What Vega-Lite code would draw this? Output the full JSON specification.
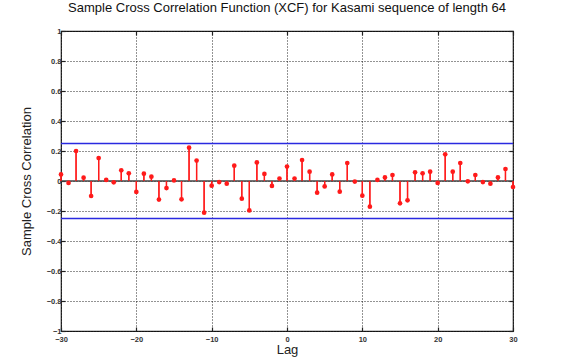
{
  "$schema": "https://vega.github.io/schema/vega-lite/v6.json",
  "autosize": {"type": "none"},
  "padding": {"left": 61, "top": 31, "right": 55, "bottom": 29},
  "width": 452,
  "height": 300,
  "background": "white",
  "title": {
    "text": "Sample Cross Correlation Function (XCF) for Kasami sequence of length 64",
    "font": "Liberation Sans",
    "fontSize": 13,
    "fontWeight": "normal",
    "color": "#111111",
    "offset": 12
  },
  "resolve": {"axis": {"x": "independent", "y": "independent"}},
  "config": {
    "view": {"stroke": "#222222", "strokeWidth": 1.2},
    "axis": {
      "labelFont": "Liberation Sans",
      "labelFontSize": 7.5,
      "labelFontWeight": "bold",
      "labelColor": "#333333",
      "labelOverlap": false,
      "labelFlush": false,
      "titleFont": "Liberation Sans",
      "titleFontWeight": "normal",
      "titleFontSize": 13,
      "titleColor": "#222222",
      "domain": false,
      "tickColor": "#222222",
      "tickWidth": 1.2,
      "gridColor": "#000000",
      "gridDash": [1, 2],
      "gridWidth": 1,
      "gridOpacity": 0.85
    }
  },
  "datasets": {
    "xcf": [
      {"lag": -30, "r": 0.044}, {"lag": -29, "r": -0.013}, {"lag": -28, "r": 0.2}, {"lag": -27, "r": 0.022},
      {"lag": -26, "r": -0.1}, {"lag": -25, "r": 0.153}, {"lag": -24, "r": 0.007}, {"lag": -23, "r": -0.009},
      {"lag": -22, "r": 0.071}, {"lag": -21, "r": 0.051}, {"lag": -20, "r": -0.073}, {"lag": -19, "r": 0.049},
      {"lag": -18, "r": 0.029}, {"lag": -17, "r": -0.124}, {"lag": -16, "r": -0.047}, {"lag": -15, "r": 0.004},
      {"lag": -14, "r": -0.122}, {"lag": -13, "r": 0.222}, {"lag": -12, "r": 0.136}, {"lag": -11, "r": -0.211},
      {"lag": -10, "r": -0.031}, {"lag": -9, "r": -0.007}, {"lag": -8, "r": -0.018}, {"lag": -7, "r": 0.102},
      {"lag": -6, "r": -0.118}, {"lag": -5, "r": -0.196}, {"lag": -4, "r": 0.124}, {"lag": -3, "r": 0.047},
      {"lag": -2, "r": -0.033}, {"lag": -1, "r": 0.016}, {"lag": 0, "r": 0.096}, {"lag": 1, "r": 0.016},
      {"lag": 2, "r": 0.14}, {"lag": 3, "r": 0.062}, {"lag": 4, "r": -0.078}, {"lag": 5, "r": -0.036},
      {"lag": 6, "r": 0.044}, {"lag": 7, "r": -0.071}, {"lag": 8, "r": 0.12}, {"lag": 9, "r": -0.004},
      {"lag": 10, "r": -0.098}, {"lag": 11, "r": -0.171}, {"lag": 12, "r": 0.007}, {"lag": 13, "r": 0.024},
      {"lag": 14, "r": 0.04}, {"lag": 15, "r": -0.149}, {"lag": 16, "r": -0.129}, {"lag": 17, "r": 0.058},
      {"lag": 18, "r": 0.051}, {"lag": 19, "r": 0.062}, {"lag": 20, "r": -0.013}, {"lag": 21, "r": 0.178},
      {"lag": 22, "r": 0.062}, {"lag": 23, "r": 0.12}, {"lag": 24, "r": -0.002}, {"lag": 25, "r": 0.04},
      {"lag": 26, "r": -0.007}, {"lag": 27, "r": -0.018}, {"lag": 28, "r": 0.024}, {"lag": 29, "r": 0.08},
      {"lag": 30, "r": -0.04}
    ],
    "bounds": [{"b": 0.25}, {"b": -0.25}]
  },
  "layer": [
    {
      "data": {"name": "xcf"},
      "mark": {"type": "rule", "color": "#ff1a1a", "strokeWidth": 1.3},
      "encoding": {
        "x": {
          "field": "lag", "type": "quantitative",
          "scale": {"domain": [-30, 30], "nice": false},
          "axis": {"title": "Lag", "orient": "bottom", "grid": true, "values": [-30, -20, -10, 0, 10, 20, 30], "tickCount": 20, "tickSize": -4, "labelPadding": 8, "titlePadding": 1}
        },
        "y": {
          "field": "r", "type": "quantitative",
          "scale": {"domain": [-1, 1], "nice": false},
          "axis": {"title": "Sample Cross Correlation", "orient": "left", "grid": true, "values": [-1, -0.8, -0.6, -0.4, -0.2, 0, 0.2, 0.4, 0.6, 0.8, 1], "tickCount": 20, "format": ".1~f", "tickSize": -4, "labelPadding": 4, "titlePadding": 13}
        },
        "y2": {"datum": 0}
      }
    },
    {
      "data": {"name": "bounds"},
      "mark": {"type": "rule", "color": "#2a2ae0", "strokeWidth": 1.6},
      "encoding": {
        "y": {"field": "b", "type": "quantitative", "axis": null}
      }
    },
    {
      "data": {"name": "bounds"},
      "mark": {"type": "rule", "color": "#444444", "strokeWidth": 1.2},
      "encoding": {
        "y": {"datum": 0, "type": "quantitative", "axis": null}
      }
    },
    {
      "data": {"name": "xcf"},
      "mark": {"type": "rule", "color": "#ff1a1a", "strokeWidth": 1.3},
      "encoding": {
        "x": {"field": "lag", "type": "quantitative", "axis": null},
        "y": {"field": "r", "type": "quantitative", "axis": null},
        "y2": {"datum": 0}
      }
    },
    {
      "data": {"name": "xcf"},
      "mark": {"type": "point", "filled": true, "color": "#ff1a1a", "opacity": 1, "size": 22},
      "encoding": {
        "x": {"field": "lag", "type": "quantitative", "axis": {"orient": "top", "title": null, "labels": false, "grid": false, "values": [-30, -20, -10, 0, 10, 20, 30], "tickCount": 20, "tickSize": -4}},
        "y": {"field": "r", "type": "quantitative", "axis": {"orient": "right", "title": null, "labels": false, "grid": false, "values": [-1, -0.8, -0.6, -0.4, -0.2, 0, 0.2, 0.4, 0.6, 0.8, 1], "tickCount": 20, "tickSize": -4}}
      }
    }
  ]
}
